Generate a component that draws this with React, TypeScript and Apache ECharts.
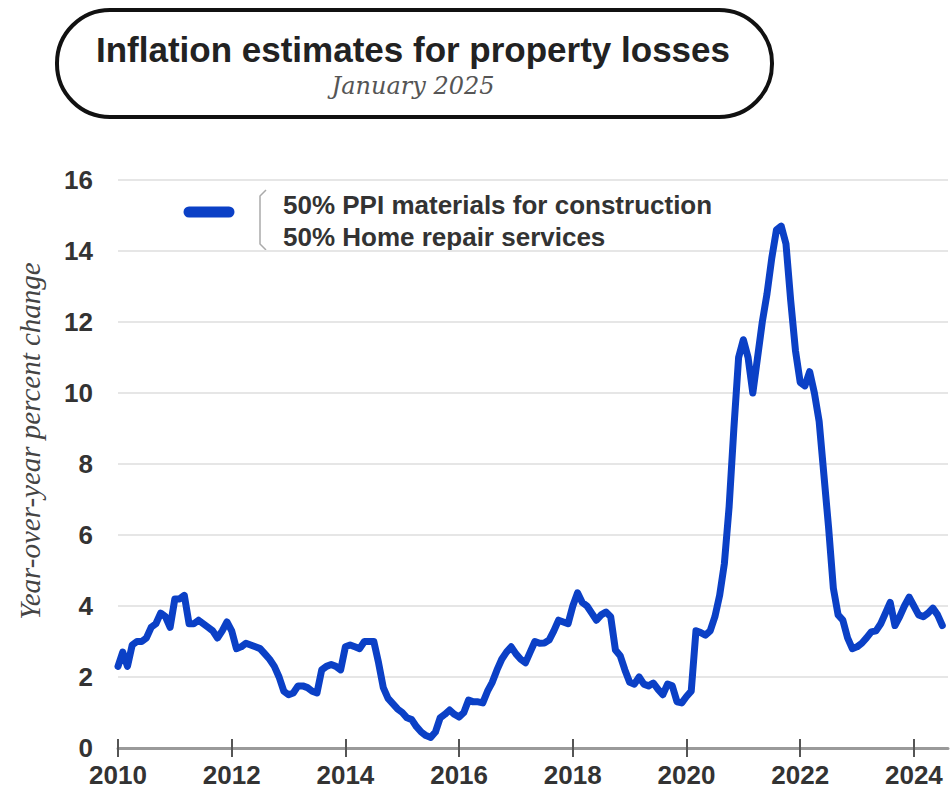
import React, { useEffect, useRef } from "react";
import * as echarts from "echarts";

// Monthly year-over-year % change, starting January 2010
const y2010 = [2.3, 2.7, 2.3, 2.9, 3.0, 3.0, 3.1, 3.4, 3.5, 3.8, 3.7, 3.4];
const y2011 = [4.2, 4.2, 4.3, 3.5, 3.5, 3.6, 3.5, 3.4, 3.3, 3.1, 3.3, 3.55];
const y2012 = [3.3, 2.8, 2.85, 2.95, 2.9, 2.85, 2.8, 2.65, 2.5, 2.3, 2.0, 1.6];
const y2013 = [1.5, 1.55, 1.75, 1.75, 1.7, 1.6, 1.55, 2.2, 2.3, 2.35, 2.3, 2.2];
const y2014 = [2.85, 2.9, 2.85, 2.8, 3.0, 3.0, 3.0, 2.4, 1.7, 1.4, 1.25, 1.1];
const y2015 = [1.0, 0.85, 0.8, 0.6, 0.45, 0.35, 0.3, 0.45, 0.85, 0.95, 1.07, 0.95];
const y2016 = [0.87, 1.0, 1.35, 1.3, 1.3, 1.27, 1.6, 1.85, 2.2, 2.5, 2.7, 2.85];
const y2017 = [2.65, 2.5, 2.4, 2.7, 3.0, 2.95, 2.96, 3.04, 3.3, 3.6, 3.55, 3.5];
const y2018 = [4.0, 4.37, 4.1, 4.0, 3.8, 3.6, 3.75, 3.83, 3.7, 2.76, 2.6, 2.2];
const y2019 = [1.85, 1.8, 2.0, 1.8, 1.75, 1.83, 1.65, 1.5, 1.8, 1.75, 1.3, 1.27];
const y2020 = [1.45, 1.6, 3.3, 3.25, 3.18, 3.3, 3.7, 4.3, 5.2, 6.8, 9.0, 11.0];
const y2021 = [11.5, 11.0, 10.0, 11.0, 12.0, 12.8, 13.8, 14.6, 14.7, 14.2, 12.6, 11.2];
const y2022 = [10.3, 10.2, 10.6, 10.0, 9.2, 7.7, 6.2, 4.5, 3.75, 3.6, 3.1, 2.8];
const y2023 = [2.85, 2.95, 3.1, 3.27, 3.3, 3.5, 3.8, 4.1, 3.45, 3.7, 4.0, 4.25];
const y2024 = [4.0, 3.75, 3.7, 3.8, 3.94, 3.75, 3.45];

const startYear = 2010;
const values = [
  ...y2010, ...y2011, ...y2012, ...y2013, ...y2014, ...y2015, ...y2016, ...y2017,
  ...y2018, ...y2019, ...y2020, ...y2021, ...y2022, ...y2023, ...y2024,
];

const xTicks = [2010, 2012, 2014, 2016, 2018, 2020, 2022, 2024];
const yTicks = [0, 2, 4, 6, 8, 10, 12, 14, 16];

const seriesName = "50% PPI materials for construction / 50% Home repair services";
const legendLines = ["50% PPI materials for construction", "50% Home repair services"];
const titleText = "Inflation estimates for property losses";
const subtitleText = "January 2025";
const yAxisName = "Year-over-year percent change";

const BLUE = "#0b40c6";

export default function App() {
  const ref = useRef<HTMLDivElement>(null);

  useEffect(() => {
    if (!ref.current) return;
    const chart = echarts.init(ref.current, null, { renderer: "svg" });
    const data = values.map((v, i) => [startYear + i / 12, v]);
    const xMax = 2024.6;
    const labelFont = {
      color: "#333",
      fontSize: 26,
      fontWeight: "bold" as const,
      fontFamily: "Liberation Sans, Arial, sans-serif",
    };

    chart.setOption({
      animation: false,
      backgroundColor: "#ffffff",
      grid: { left: 118, right: 2, top: 180, bottom: 48, containLabel: false },
      xAxis: [
        {
          type: "value",
          min: 2010,
          max: xMax,
          interval: 2,
          position: "bottom",
          axisLine: { show: true, lineStyle: { color: "#9a9a9a", width: 3 } },
          axisTick: {
            show: true,
            length: 9,
            inside: false,
            customValues: xTicks,
            lineStyle: { color: "#555", width: 2 },
          },
          axisLabel: {
            ...labelFont,
            margin: 14,
            customValues: xTicks,
            formatter: (v: number) => String(v),
          },
          splitLine: { show: false },
        },
        {
          type: "value",
          min: 2010,
          max: xMax,
          interval: 2,
          position: "bottom",
          axisLine: { show: false },
          axisTick: {
            show: true,
            length: 9,
            inside: true,
            customValues: xTicks,
            lineStyle: { color: "#555", width: 2 },
          },
          axisLabel: { show: false },
          splitLine: { show: false },
        },
      ],
      yAxis: {
        type: "value",
        min: 0,
        max: 16,
        interval: 2,
        axisLine: { show: false },
        axisTick: { show: false },
        axisLabel: {
          ...labelFont,
          margin: 25,
          customValues: yTicks,
        },
        splitLine: { show: true, lineStyle: { color: "#e6e6e6", width: 2 } },
      },
      series: [
        {
          name: seriesName,
          type: "line",
          xAxisIndex: 0,
          data,
          showSymbol: false,
          symbol: "none",
          smooth: false,
          lineStyle: { color: BLUE, width: 7, cap: "round", join: "round" },
          z: 5,
        },
      ],
      graphic: [
        {
          type: "rect",
          shape: { x: 57, y: 10, width: 715, height: 107, r: 53 },
          style: { fill: "none", stroke: "#111", lineWidth: 4 },
        },
        {
          type: "text",
          x: 413,
          y: 49,
          style: {
            text: titleText,
            align: "center",
            verticalAlign: "middle",
            fill: "#222",
            font: "bold 35px 'Liberation Sans', Arial, sans-serif",
          },
        },
        {
          type: "text",
          x: 413,
          y: 86,
          style: {
            text: subtitleText,
            align: "center",
            verticalAlign: "middle",
            fill: "#555",
            font: "italic 24px 'DejaVu Serif', serif",
          },
        },
        {
          type: "text",
          x: 30,
          y: 441,
          rotation: Math.PI / 2,
          style: {
            text: yAxisName,
            align: "center",
            verticalAlign: "middle",
            fill: "#444",
            font: "italic 29px 'Liberation Serif', serif",
          },
        },
        {
          type: "line",
          shape: { x1: 189, y1: 212, x2: 229, y2: 212 },
          style: { stroke: BLUE, lineWidth: 11, lineCap: "round" },
        },
        {
          type: "polyline",
          shape: { points: [[266, 190], [260, 196], [260, 244], [266, 250]] },
          style: { stroke: "#aaa", lineWidth: 1.5, fill: "none" },
        },
        {
          type: "text",
          x: 283,
          y: 205,
          style: {
            text: legendLines[0],
            align: "left",
            verticalAlign: "middle",
            fill: "#333",
            font: "bold 26px 'Liberation Sans', Arial, sans-serif",
          },
        },
        {
          type: "text",
          x: 283,
          y: 237,
          style: {
            text: legendLines[1],
            align: "left",
            verticalAlign: "middle",
            fill: "#333",
            font: "bold 26px 'Liberation Sans', Arial, sans-serif",
          },
        },
      ],
    });

    return () => {
      chart.dispose();
    };
  }, []);

  return (
    <div
      ref={ref}
      style={{ position: "absolute", left: 0, top: 0, width: 950, height: 796 }}
    />
  );
}
